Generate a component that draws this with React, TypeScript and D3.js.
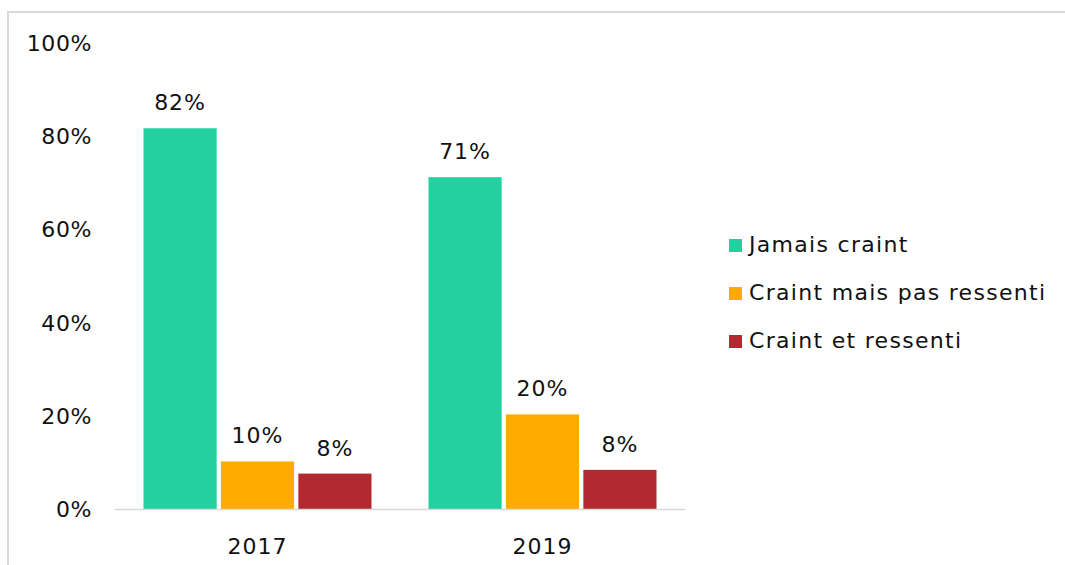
import React, { useRef, useEffect } from 'react';
import * as d3 from 'd3';

const years = ['2017', '2019'];
const seriesNames = ['Jamais craint', 'Craint mais pas ressenti', 'Craint et ressenti'];
const jamaisCraint = [81.7, 71.2];
const craintPasRessenti = [10.2, 20.3];
const craintRessenti = [7.6, 8.4];
const valueLabels = [
  ['82%', '71%'],
  ['10%', '20%'],
  ['8%', '8%']
];
const yTicks = [0, 20, 40, 60, 80, 100];
const colors = ['#23D1A0', '#FFAA00', '#B22A30'];

const width = 1065;
const height = 565;
const font = '"DejaVu Sans", sans-serif';

export default function App() {
  const svgRef = useRef<SVGSVGElement>(null);

  useEffect(() => {
    const svg = d3.select(svgRef.current);
    svg.selectAll('*').remove();

    const series = [jamaisCraint, craintPasRessenti, craintRessenti];
    const plot = { left: 115, right: 685, top: 43, bottom: 509 };

    // outer frame (cut off at the right and bottom)
    svg.append('rect')
      .attr('x', 8)
      .attr('y', 12)
      .attr('width', 1100)
      .attr('height', 600)
      .attr('fill', 'none')
      .attr('stroke', '#d9d9d9')
      .attr('stroke-width', 2);

    const x0 = d3.scaleBand<string>()
      .domain(years)
      .range([plot.left, plot.right])
      .paddingInner(0.2)
      .paddingOuter(0.1);

    const x1 = d3.scaleBand<number>()
      .domain(d3.range(series.length))
      .range([0, x0.bandwidth()])
      .paddingInner(0.055);

    const y = d3.scaleLinear()
      .domain([0, 100])
      .range([plot.bottom, plot.top]);

    // y labels
    svg.append('g')
      .selectAll('text')
      .data(yTicks)
      .enter()
      .append('text')
      .attr('x', 92)
      .attr('y', d => y(d) + 2)
      .attr('text-anchor', 'end')
      .attr('dominant-baseline', 'middle')
      .attr('font-family', font)
      .attr('font-size', 22)
      .attr('letter-spacing', 0.6)
      .attr('fill', '#111')
      .text(d => `${d}%`);

    // bars
    series.forEach((vals, si) => {
      const g = svg.append('g');
      g.selectAll('rect')
        .data(vals)
        .enter()
        .append('rect')
        .attr('x', (d, i) => (x0(years[i]) as number) + (x1(si) as number))
        .attr('y', d => y(d))
        .attr('width', x1.bandwidth())
        .attr('height', d => y(0) - y(d))
        .attr('fill', colors[si]);

      g.selectAll('text')
        .data(vals)
        .enter()
        .append('text')
        .attr('x', (d, i) => (x0(years[i]) as number) + (x1(si) as number) + x1.bandwidth() / 2)
        .attr('y', d => y(d) - 18)
        .attr('text-anchor', 'middle')
        .attr('font-family', font)
        .attr('font-size', 22)
        .attr('letter-spacing', 1)
        .attr('fill', '#111')
        .text((d, i) => valueLabels[si][i]);
    });

    // baseline
    svg.append('line')
      .attr('x1', plot.left)
      .attr('x2', plot.right)
      .attr('y1', y(0) + 0.5)
      .attr('y2', y(0) + 0.5)
      .attr('stroke', '#d9d9d9')
      .attr('stroke-width', 1.5);

    // x labels
    svg.append('g')
      .selectAll('text')
      .data(years)
      .enter()
      .append('text')
      .attr('x', d => (x0(d) as number) + x0.bandwidth() / 2)
      .attr('y', 554)
      .attr('text-anchor', 'middle')
      .attr('font-family', font)
      .attr('font-size', 22)
      .attr('letter-spacing', 1)
      .attr('fill', '#111')
      .text(d => d);

    // legend
    const legend = svg.append('g').attr('transform', 'translate(729,245)');
    const item = legend.selectAll('g')
      .data(seriesNames)
      .enter()
      .append('g')
      .attr('transform', (d, i) => `translate(0,${i * 48})`);
    item.append('rect')
      .attr('x', 0)
      .attr('y', -6)
      .attr('width', 13)
      .attr('height', 13)
      .attr('fill', (d, i) => colors[i]);
    item.append('text')
      .attr('x', 20)
      .attr('y', 1)
      .attr('dominant-baseline', 'middle')
      .attr('font-family', font)
      .attr('font-size', 22)
      .attr('letter-spacing', 1.3)
      .attr('fill', '#111')
      .text(d => d);
  }, []);

  return (
    <div style={{ position: 'absolute', left: 0, top: 0 }}>
      <svg ref={svgRef} width={width} height={height} style={{ display: 'block', background: '#fff' }} />
    </div>
  );
}
